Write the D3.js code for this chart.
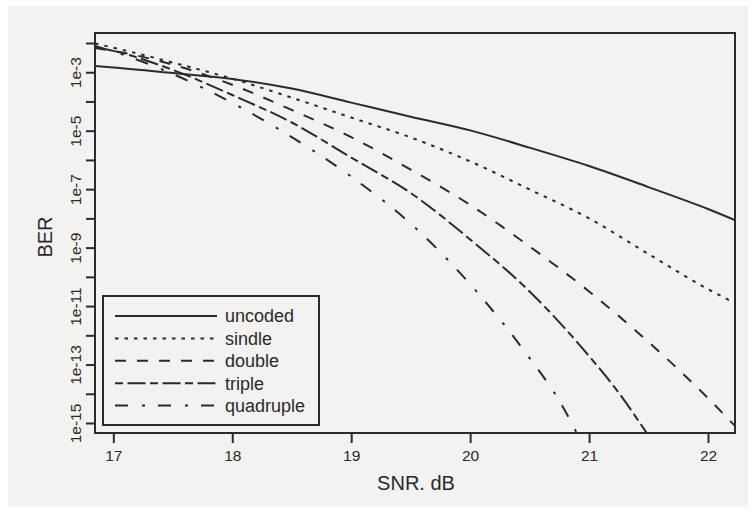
<!DOCTYPE html>
<html>
<head>
<meta charset="utf-8">
<script src="https://cdn.jsdelivr.net/npm/d3@7"></script>
<style>
  html, body { margin: 0; padding: 0; background: #ffffff; }
  svg { display: block; }
  text { font-family: "Liberation Sans", Arial, Helvetica, sans-serif; fill: #2a2a2a; }
</style>
</head>
<body>
<svg id="chart" width="753" height="512"></svg>
<script>
// ---- data (BER stored as log10 values) ----
const snrGrid = [16.846, 17, 17.5, 18, 18.5, 19, 19.5, 20, 20.5, 21, 21.5, 22, 22.227];
const uncodedLog = [-2.79, -2.84, -3.03, -3.23, -3.56, -4.04, -4.52, -4.99, -5.58, -6.21, -6.93, -7.68, -8.06];
const sindleLog  = [-2.02, -2.16, -2.67, -3.22, -3.87, -4.55, -5.23, -6.05, -7.01, -8.00, -9.22, -10.42, -10.90];
const doubleLog  = [-2.17, -2.27, -2.74, -3.43, -4.29, -5.22, -6.33, -7.54, -8.96, -10.50, -12.23, -14.15, -15.10];
const tripleSnr  = [16.846, 17, 17.5, 18, 18.5, 19, 19.5, 20, 20.5, 21, 21.25, 21.484];
const tripleLog  = [-2.14, -2.27, -2.92, -3.78, -4.72, -5.92, -7.13, -8.72, -10.50, -12.71, -13.97, -15.34];
const quadSnr    = [16.846, 17, 17.5, 18, 18.5, 19, 19.5, 20, 20.5, 20.75, 20.896];
const quadLog    = [-2.10, -2.29, -3.06, -4.05, -5.22, -6.57, -8.18, -10.25, -12.78, -14.24, -15.34];

const seriesNames = ["uncoded", "sindle", "double", "triple", "quadruple"];
const xTickValues = [17, 18, 19, 20, 21, 22];
const yTickExponents = [-2, -3, -4, -5, -6, -7, -8, -9, -10, -11, -12, -13, -14, -15];
const yLabelExponents = [-3, -5, -7, -9, -11, -13, -15];
const xDomain = [16.846, 22.227];
const yDomainLog = [-15.342, -1.658];

// ---- layout & style ----
const ink = "#2b2b2b";
const dashes = [null, "3.5,6", "11,11", "8,4.5,18,4.5", "13,14,3,13"];
const margin = { left: 95, right: 735, top: 33, bottom: 433 };
const fontFam = "Liberation Sans, Arial, sans-serif";

const svg = d3.select("#chart");
svg.append("rect").attr("x", 8).attr("y", 6).attr("width", 740).attr("height", 501).attr("fill", "#f2f2f1");

const x = d3.scaleLinear().domain(xDomain).range([margin.left, margin.right]);
const y = d3.scaleLog().domain(yDomainLog.map(v => Math.pow(10, v))).range([margin.bottom, margin.top]);

const series = [
  { name: seriesNames[0], xs: snrGrid, ys: uncodedLog },
  { name: seriesNames[1], xs: snrGrid, ys: sindleLog },
  { name: seriesNames[2], xs: snrGrid, ys: doubleLog },
  { name: seriesNames[3], xs: tripleSnr, ys: tripleLog },
  { name: seriesNames[4], xs: quadSnr, ys: quadLog }
].map((s, i) => ({ ...s, dash: dashes[i], pts: s.xs.map((v, j) => [v, Math.pow(10, s.ys[j])]) }));

svg.append("clipPath").attr("id", "clip").append("rect")
  .attr("x", margin.left).attr("y", margin.top)
  .attr("width", margin.right - margin.left).attr("height", margin.bottom - margin.top);

const line = d3.line().x(d => x(d[0])).y(d => y(d[1])).curve(d3.curveMonotoneX);

const g = svg.append("g").attr("clip-path", "url(#clip)");
series.forEach(s => {
  g.append("path").datum(s.pts)
    .attr("d", line)
    .attr("fill", "none")
    .attr("stroke", ink)
    .attr("stroke-width", 2)
    .attr("stroke-dasharray", s.dash);
});

// box
svg.append("rect")
  .attr("x", margin.left).attr("y", margin.top)
  .attr("width", margin.right - margin.left).attr("height", margin.bottom - margin.top)
  .attr("fill", "none").attr("stroke", ink).attr("stroke-width", 2);

// x axis
const xAxis = d3.axisBottom(x).tickValues(xTickValues).tickSize(10).tickPadding(7).tickFormat(d3.format("d"));
const gx = svg.append("g").attr("transform", `translate(0,${margin.bottom})`).call(xAxis);
gx.select(".domain").remove();
gx.selectAll(".tick line").attr("stroke", ink).attr("stroke-width", 2);
gx.selectAll(".tick text").attr("font-size", 15.5).attr("fill", ink).attr("font-family", fontFam);

// y axis
const yAxis = d3.axisLeft(y).tickValues(yTickExponents.map(e => Math.pow(10, e))).tickSize(9)
  .tickFormat(d => {
    const e = Math.round(Math.log10(d));
    return yLabelExponents.includes(e) ? "1e" + e : "";
  });
const gy = svg.append("g").attr("transform", `translate(${margin.left},0)`).call(yAxis);
gy.select(".domain").remove();
gy.selectAll(".tick line").attr("stroke", ink).attr("stroke-width", 2);
gy.selectAll(".tick text")
  .attr("font-size", 15.5).attr("fill", ink).attr("font-family", fontFam)
  .attr("x", null).attr("dy", null)
  .attr("text-anchor", "middle")
  .attr("transform", "translate(-14,0) rotate(-90)");

// axis titles
svg.append("text").attr("x", 416).attr("y", 490).attr("text-anchor", "middle")
  .attr("font-size", 20).text("SNR. dB");
svg.append("text").attr("transform", "translate(52,237) rotate(-90)").attr("text-anchor", "middle")
  .attr("font-size", 20).text("BER");

// legend
const lg = svg.append("g");
lg.append("rect").attr("x", 103).attr("y", 296).attr("width", 216).attr("height", 129)
  .attr("fill", "none").attr("stroke", ink).attr("stroke-width", 2);
series.forEach((s, i) => {
  const yy = 316 + i * 22.4;
  lg.append("line").attr("x1", 115).attr("x2", 217).attr("y1", yy).attr("y2", yy)
    .attr("stroke", ink).attr("stroke-width", 2).attr("stroke-dasharray", s.dash);
  lg.append("text").attr("x", 225).attr("y", yy).attr("dy", "0.35em")
    .attr("font-size", 18).text(s.name);
});
</script>
</body>
</html>
